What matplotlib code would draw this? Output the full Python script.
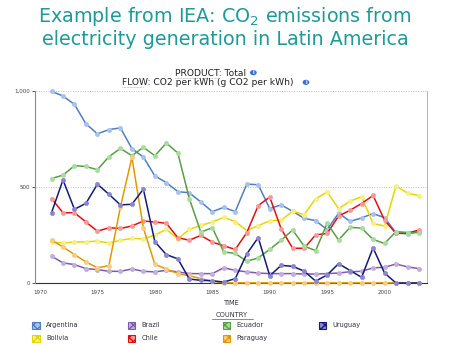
import matplotlib
matplotlib.use("Agg")
import matplotlib.pyplot as plt
from matplotlib.patches import Rectangle, Circle
import numpy as np

plt.rcParams['font.family'] = ['DejaVu Sans']
plt.rcParams['mathtext.default'] = 'regular'

years = list(range(1971, 2004))

argentina = [998, 974, 930, 829, 777, 799, 808, 700, 656, 558, 523, 476, 470, 422, 372, 394, 372,
             515, 512, 388, 407, 373, 337, 325, 278, 364, 321, 339, 362, 340, 261, 256, 268]
bolivia = [213, 209, 213, 215, 218, 209, 223, 232, 230, 250, 279, 230, 279, 300, 318, 342, 320,
           273, 299, 324, 327, 374, 356, 439, 474, 387, 426, 450, 310, 297, 506, 468, 455]
brazil = [140, 105, 96, 75, 70, 61, 61, 73, 61, 58, 66, 58, 49, 49, 49, 79, 66,
          58, 52, 49, 49, 49, 47, 47, 49, 52, 59, 61, 79, 82, 99, 84, 75]
chile = [440, 366, 366, 318, 270, 288, 284, 297, 323, 318, 311, 236, 223, 248, 213, 194, 175,
         262, 403, 448, 282, 181, 181, 251, 258, 349, 379, 414, 456, 327, 258, 260, 276]
ecuador = [544, 562, 611, 607, 590, 658, 701, 663, 707, 663, 729, 677, 440, 265, 288, 162, 154,
           113, 131, 175, 223, 276, 192, 169, 311, 224, 290, 286, 227, 206, 268, 263, 262]
paraguay = [223, 188, 148, 110, 79, 91, 396, 654, 287, 97, 73, 49, 38, 23, 9, 1, 1,
            1, 1, 1, 1, 1, 1, 1, 1, 1, 1, 1, 1, 1, 1, 1, 1]
uruguay = [366, 537, 384, 415, 515, 462, 407, 410, 489, 215, 148, 126, 21, 14, 12, 5, 23,
           151, 237, 38, 92, 87, 62, 10, 42, 101, 65, 30, 183, 52, 0, 0, 0]

countries = ["Argentina", "Bolivia", "Brazil", "Chile", "Ecuador", "Paraguay", "Uruguay"]
series = [argentina, bolivia, brazil, chile, ecuador, paraguay, uruguay]
line_colors = ["#4f7fc0", "#e6d600", "#7d5ca8", "#e01010", "#5a9e44", "#e09a00", "#141a78"]
marker_colors = ["#a9c1ee", "#f6f080", "#c2aee0", "#f59a9a", "#a8dca0", "#f5cc80", "#8c86d0"]

fig = plt.figure(figsize=(4.5, 3.46), dpi=100)
ax = fig.add_axes([0.080, 0.182, 0.869, 0.555])

for name, vals, lc, mc in zip(countries, series, line_colors, marker_colors):
    ax.plot(years, vals, color=lc, lw=1.1, marker='o', ms=3,
            mfc=mc, mec=mc, mew=0.5, clip_on=False, zorder=3)

ax.set_xlim(1969.65, 2003.7)
ax.set_ylim(0, 1000)
ax.set_xticks([1970, 1975, 1980, 1985, 1990, 1995, 2000])
ax.set_yticks([0, 500, 1000])
ax.set_yticklabels(["0", "500", "1,000"])
ax.tick_params(axis='both', labelsize=4, colors="#444444", length=2, width=0.6, pad=1.5)
ax.tick_params(axis='x', length=0, pad=5)

for y in (500, 1000):
    ax.axhline(y, color="#e0a8e0", lw=0.7, ls=(0, (1, 1.5)), zorder=1)

ax.spines['top'].set_visible(False)
ax.spines['left'].set_color("#888888")
ax.spines['left'].set_linewidth(0.8)
ax.spines['left'].set_position(('outward', 1))
ax.spines['right'].set_color("#aaaaaa")
ax.spines['right'].set_linewidth(0.6)
ax.spines['bottom'].set_color("#333333")
ax.spines['bottom'].set_linewidth(0.8)

# title block
fig.text(0.5, 0.952, "Example from IEA: CO$_2$ emissions from", ha='center', va='center',
         fontsize=13.8, color="#1f9a9a")
fig.text(0.5, 0.885, "electricity generation in Latin America", ha='center', va='center',
         fontsize=13.8, color="#1f9a9a")

def info_icon(x, y):
    fig.patches.append(Circle((x, y), 0.0075, transform=fig.transFigure,
                              facecolor="#3a6fd8", edgecolor="none"))
    fig.text(x, y, "i", ha='center', va='center', fontsize=3.5, color="white",
             fontweight='bold')

fig.text(0.467, 0.789, "PRODUCT: Total", ha='center', va='center', fontsize=6.6, color="#222222")
fig.text(0.462, 0.761, "FLOW: CO2 per kWh (g CO2 per kWh)", ha='center', va='center',
         fontsize=6.6, color="#222222")
fig.add_artist(plt.Line2D([0.388, 0.484], [0.776, 0.776], color="#555555", lw=0.4, ls=':'))
fig.add_artist(plt.Line2D([0.271, 0.318], [0.748, 0.748], color="#555555", lw=0.4, ls=':'))
info_icon(0.563, 0.790)
info_icon(0.680, 0.762)

fig.text(0.515, 0.124, "TIME", ha='center', va='center', fontsize=4.8, color="#333344")
fig.text(0.515, 0.089, "COUNTRY", ha='center', va='center', fontsize=4.8, color="#333344")
fig.add_artist(plt.Line2D([0.47, 0.562], [0.077, 0.077], color="#333344", lw=0.4))

# legend laid out in four fixed-width columns
for i, (name, lc, mc) in enumerate(zip(countries, line_colors, marker_colors)):
    col, row = i // 2, i % 2
    x0 = 0.072 + col * 0.212
    y0 = 0.060 - row * 0.038
    fig.patches.append(Rectangle((x0, y0 - 0.010), 0.016, 0.020, transform=fig.transFigure,
                                 facecolor=mc, edgecolor=lc, lw=0.8, hatch='xxxx'))
    fig.text(x0 + 0.030, y0, name, ha='left', va='center', fontsize=4.8, color="#333344")

fig.savefig("out.png", dpi=100)
